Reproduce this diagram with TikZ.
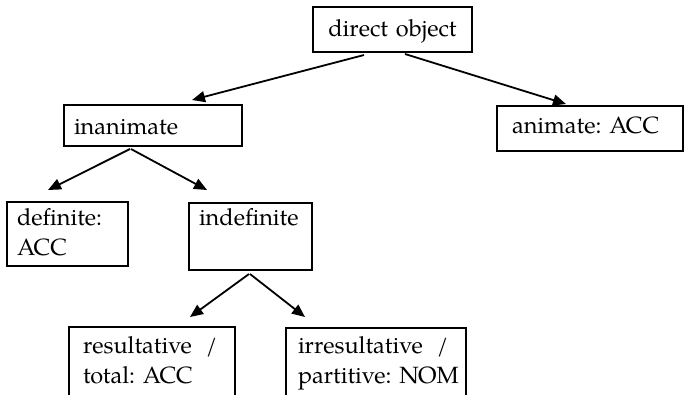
\documentclass[tikz,border=0pt]{standalone}
\usepackage{fontspec}
\setmainfont{TeX Gyre Pagella}
\usetikzlibrary{arrows.meta}
\begin{document}
\begin{tikzpicture}[x=1pt,y=-1pt,
  box/.style={draw=black, line width=1.2pt, anchor=north west, outer sep=0pt,
    inner ysep=0pt, align=left, font=\fontsize{23.5}{30}\selectfont},
  arr/.style={line width=1.8pt, -{Triangle[length=13pt,width=11pt]}}]
\useasboundingbox (0,0) rectangle (684,394);
\clip (0,0) rectangle (684,394);
\node[box, align=center, inner xsep=0pt, text width=159pt, text height=29pt, text depth=16pt] (top) at (313,7) {direct~object};
\node[box, inner xsep=10pt, text width=158pt, text height=29.5pt, text depth=11.5pt] (inan) at (64,105) {inanimate};
\node[box, inner xsep=15pt, text width=156pt, text height=27pt, text depth=18pt] (anim) at (497,106) {animate:~ACC};
\node[box, inner xsep=10pt, text width=101pt, text height=23pt, text depth=41pt] (def) at (7,202) {definite:\\ACC};
\node[box, inner xsep=10pt, text width=103pt, text height=22pt, text depth=45pt] (indef) at (189,203) {indefinite};
\node[box, inner xsep=14pt, text width=138pt, text height=26pt, text depth=47pt] (res) at (69,327) {resultative\nobreak\hspace{14pt}/\\total:~ACC};
\node[box, inner xsep=12pt, text width=156pt, text height=25pt, text depth=47pt] (irr) at (286,328) {irresultative\nobreak\hspace{14pt}/\\partitive:~NOM};
\draw[arr] ([xshift=51pt,yshift=-3pt]top.south west) -- ([xshift=128pt,yshift=5pt]inan.north west);
\draw[arr] ([xshift=92pt,yshift=-2pt]top.south west) -- ([xshift=69pt,yshift=2pt]anim.north west);
\draw[arr] ([xshift=66pt,yshift=-3pt]inan.south west) -- ([xshift=41pt,yshift=12pt]def.north west);
\draw[arr] ([xshift=67pt,yshift=-3pt]inan.south west) -- ([xshift=18pt,yshift=13pt]indef.north west);
\draw[arr] ([xshift=60pt,yshift=-4pt]indef.south west) -- ([xshift=121pt,yshift=10pt]res.north west);
\draw[arr] ([xshift=61pt,yshift=-4pt]indef.south west) -- ([xshift=19pt,yshift=11pt]irr.north west);
\end{tikzpicture}
\end{document}
